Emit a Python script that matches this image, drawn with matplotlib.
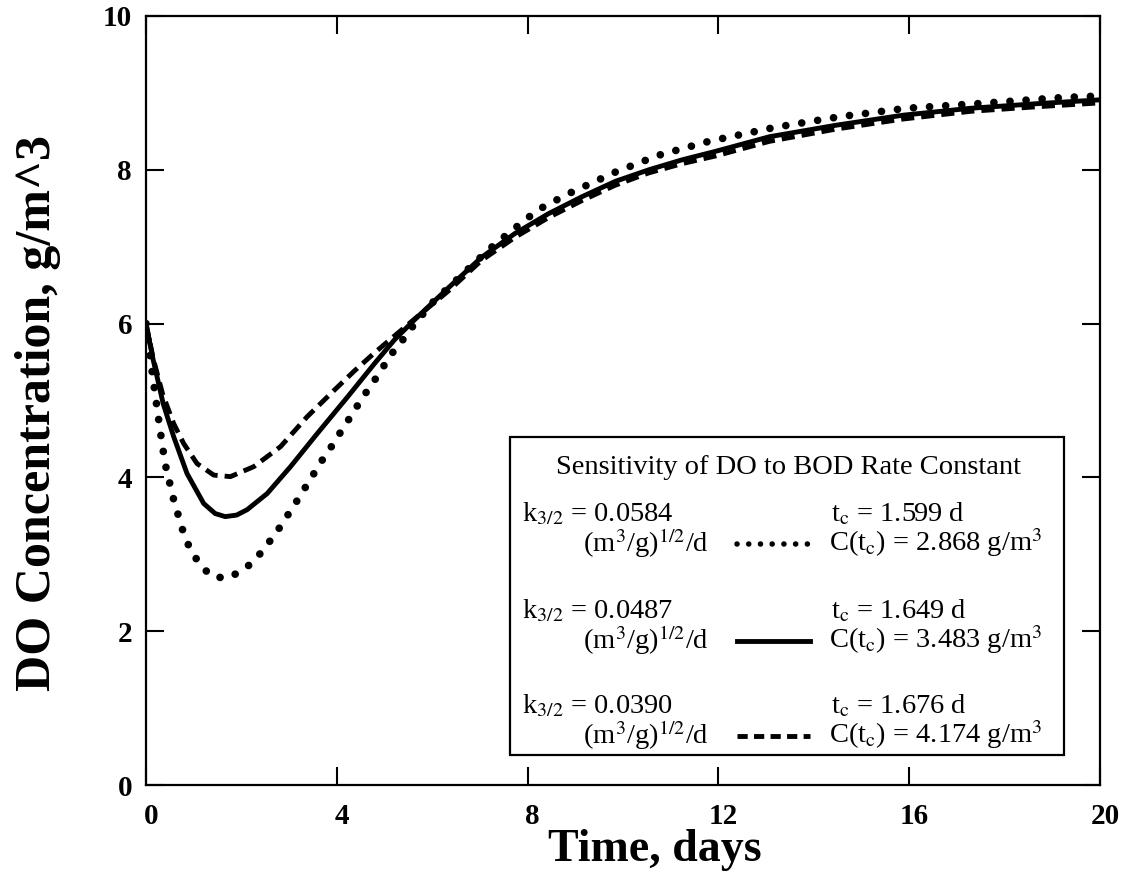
import numpy as np
import matplotlib
matplotlib.use("Agg")
from matplotlib import pyplot as plt
from matplotlib import transforms
from matplotlib.lines import Line2D
from matplotlib.patches import Rectangle

plt.rcParams['font.family'] = ['Liberation Serif', 'DejaVu Serif']
plt.rcParams['mathtext.fontset'] = 'stix'

# k3/2 = 0.0584 (dotted)
t_dot = [0, 0.15, 0.29, 0.40, 0.58, 0.79, 0.93, 1.14, 1.38, 1.71, 2.05, 2.29, 2.51, 2.74,
         2.93, 3.14, 3.33, 3.52, 3.72, 3.92, 4.12, 4.31, 4.51, 4.72, 4.91, 5.10, 5.35, 5.56,
         6.0, 6.6, 7.2, 7.59, 8.22, 8.86, 9.84, 10.75, 11.8, 13.17, 14.54, 15.94, 17.42,
         19.21, 20]
c_dot = [6.0, 5.27, 4.64, 4.18, 3.71, 3.27, 3.06, 2.86, 2.71, 2.69, 2.80, 2.93, 3.10, 3.29,
         3.47, 3.67, 3.86, 4.05, 4.25, 4.43, 4.63, 4.81, 5.01, 5.20, 5.37, 5.57, 5.76, 5.94,
         6.27, 6.62, 6.97, 7.17, 7.48, 7.69, 7.97, 8.19, 8.37, 8.55, 8.69, 8.80, 8.86,
         8.94, 8.96]

# k3/2 = 0.0487 (solid)
t_sol = [0, 0.15, 0.36, 0.58, 0.86, 1.21, 1.45, 1.66, 1.9, 2.12, 2.54, 3.03, 3.59, 4.23,
         4.79, 5.21, 5.63, 6.33, 7.03, 7.73, 8.44, 9.14, 9.84, 10.54, 11.24, 11.94, 13.07,
         14.47, 15.87, 17.28, 18.68, 20]
c_sol = [6.0, 5.53, 4.96, 4.53, 4.05, 3.66, 3.53, 3.49, 3.51, 3.58, 3.79, 4.14, 4.57, 5.05,
         5.48, 5.79, 6.05, 6.46, 6.86, 7.17, 7.43, 7.65, 7.85, 8.00, 8.13, 8.24, 8.43,
         8.58, 8.71, 8.80, 8.86, 8.91]

# k3/2 = 0.0390 (dashed)
t_dsh = [0, 0.15, 0.35, 0.58, 0.79, 1.07, 1.42, 1.77, 2.26, 2.82, 3.38, 3.94, 4.36, 4.79,
         5.21, 5.63, 6.33, 7.03, 7.73, 8.44, 9.14, 9.84, 10.54, 11.24, 11.94, 13.07, 14.47,
         15.87, 17.28, 18.68, 20]
c_dsh = [6.0, 5.55, 5.08, 4.70, 4.44, 4.18, 4.03, 4.01, 4.14, 4.40, 4.79, 5.13, 5.38, 5.62,
         5.84, 6.06, 6.42, 6.82, 7.12, 7.38, 7.60, 7.80, 7.96, 8.08, 8.18, 8.37, 8.53,
         8.66, 8.76, 8.82, 8.87]

legend_title = "Sensitivity of DO to BOD Rate Constant"
k_labels = [r"k$_{3/2}$ = 0.0584", r"k$_{3/2}$ = 0.0487", r"k$_{3/2}$ = 0.0390"]
k_unit = r"(m$^3$/g)$^{1/2}$/d"
tc_labels = [r"t$_\mathrm{c}$ = 1.599 d", r"t$_\mathrm{c}$ = 1.649 d", r"t$_\mathrm{c}$ = 1.676 d"]
ctc_labels = [r"C(t$_\mathrm{c}$) = 2.868 g/m$^3$", r"C(t$_\mathrm{c}$) = 3.483 g/m$^3$",
              r"C(t$_\mathrm{c}$) = 4.174 g/m$^3$"]

W, H = 1130, 884
fig = plt.figure(figsize=(W / 100, H / 100), dpi=100)
ax_l, ax_r, ax_t, ax_b = 146, 1100, 16, 785
ax = fig.add_axes([ax_l / W, 1 - ax_b / H, (ax_r - ax_l) / W, (ax_b - ax_t) / H])

styles = [
    dict(linestyle=(0, (0.01, 2.1)), linewidth=5.5, dash_capstyle='round'),
    dict(linestyle='-', linewidth=3.5),
    dict(linestyle=(0, (2.7, 1.45)), linewidth=3.5, dash_capstyle='butt'),
]
key_styles = [
    dict(linestyle=(0, (0.01, 2.1)), linewidth=4.0, dash_capstyle='round'),
    dict(linestyle='-', linewidth=3.5),
    dict(linestyle=(0, (2.1, 1.3)), linewidth=3.5, dash_capstyle='butt'),
]
for (t, c), st in zip([(t_dot, c_dot), (t_sol, c_sol), (t_dsh, c_dsh)], styles):
    ax.plot(t, c, color='black', solid_joinstyle='round', **st)

ax.set_xlim(0, 20)
ax.set_ylim(0, 10)
ax.set_xticks([0, 4, 8, 12, 16, 20])
ax.set_yticks([0, 2, 4, 6, 8, 10])
ax.tick_params(direction='in', length=13, width=1.5, top=True, right=True, labelsize=21)
ax.tick_params(axis='x', pad=13)
ax.tick_params(axis='y', pad=10)
shift = transforms.ScaledTranslation(5 / 100, 0, fig.dpi_scale_trans)
for lab in ax.get_xticklabels():
    lab.set_fontweight('bold')
    lab.set_transform(lab.get_transform() + shift)
for lab in ax.get_yticklabels():
    lab.set_fontweight('bold')
for sp in ax.spines.values():
    sp.set_linewidth(1.6)


def px(x, y):
    # pixel position -> axes fraction
    return (x - ax_l) / (ax_r - ax_l), (ax_b - y) / (ax_b - ax_t)


ax.set_xlabel("Time, days", fontsize=33, fontweight='bold')
ax.set_ylabel("DO Concentration, g/m^3", fontsize=36, fontweight='bold')
ax.xaxis.set_label_coords(*px(655, 829))
ax.yaxis.set_label_coords(*px(61, 413))

# legend box
bx0, by0 = px(510, 755)
bx1, by1 = px(1064, 437)
ax.add_patch(Rectangle((bx0, by0), bx1 - bx0, by1 - by0, transform=ax.transAxes,
                       facecolor='white', edgecolor='black', linewidth=1.6, zorder=5))
fs = 20.5
ax.text(*px(789, 468), legend_title, transform=ax.transAxes, ha='center', va='center',
        fontsize=fs, zorder=6)
row_y = [514, 611, 706]
for i in range(3):
    y0 = row_y[i]
    ax.text(*px(522, y0), k_labels[i], transform=ax.transAxes, ha='left', va='center',
            fontsize=fs, zorder=6)
    ax.text(*px(583, y0 + 29), k_unit, transform=ax.transAxes, ha='left', va='center',
            fontsize=fs, zorder=6)
    ax.text(*px(831, y0), tc_labels[i], transform=ax.transAxes, ha='left', va='center',
            fontsize=fs, zorder=6)
    ax.text(*px(829, y0 + 29), ctc_labels[i], transform=ax.transAxes, ha='left', va='center',
            fontsize=fs, zorder=6)
    lx0, ly = px(737, y0 + 30)
    lx1, _ = px(810, y0 + 30)
    ax.add_line(Line2D([lx0, lx1], [ly, ly], transform=ax.transAxes, color='black',
                       zorder=6, **key_styles[i]))

fig.savefig("out.png", dpi=100)
